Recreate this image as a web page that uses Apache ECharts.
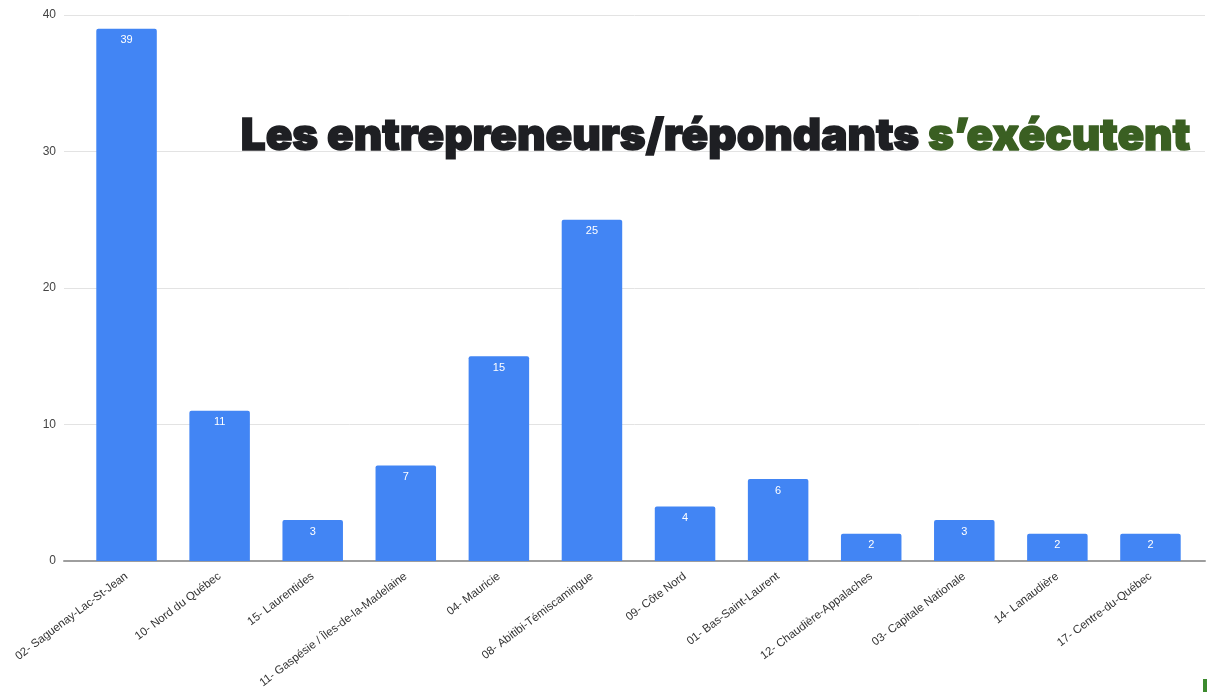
<!DOCTYPE html>
<html>
<head>
<meta charset="utf-8">
<script src="https://cdn.jsdelivr.net/npm/echarts@6/dist/echarts.min.js"></script>
<style>
  html, body { margin: 0; padding: 0; background: #ffffff; }
  #chart { width: 1207px; height: 692px; }
</style>
</head>
<body>
<div id="chart"></div>
<script>
// Regions of Québec and the number of respondents in each
const regions = [
  '02- Saguenay-Lac-St-Jean',
  '10- Nord du Québec',
  '15- Laurentides',
  '11- Gaspésie / Îles-de-la-Madelaine',
  '04- Mauricie',
  '08- Abitibi-Témiscamingue',
  '09- Côte Nord',
  '01- Bas-Saint-Laurent',
  '12- Chaudière-Appalaches',
  '03- Capitale Nationale',
  '14- Lanaudière',
  '17- Centre-du-Québec'
];
const respondents = [39, 11, 3, 7, 15, 25, 4, 6, 2, 3, 2, 2];
const yTicks = { min: 0, max: 40, interval: 10 };
const headline = ['Les entrepreneurs/répondants ', 's’exécutent'];

const chart = echarts.init(document.getElementById('chart'), null, { renderer: 'canvas' });

const gridTop = 15, gridBottom = 131;

chart.setOption({
  animation: false,
  backgroundColor: '#ffffff',
  grid: [
    // wide grid: carries the gridlines, baseline and tick labels
    { left: 64, right: 2, top: gridTop, bottom: gridBottom },
    // bar grid
    { left: 80, right: 10, top: gridTop, bottom: gridBottom }
  ],
  xAxis: [
    {
      gridIndex: 0, type: 'category', data: regions,
      axisLine: { show: true, lineStyle: { color: '#9e9e9e', width: 2 } },
      axisTick: { show: false },
      axisLabel: { show: false }
    },
    {
      gridIndex: 1,
      type: 'category',
      data: regions,
      axisLine: { show: false },
      axisTick: { show: false },
      axisLabel: {
        rotate: 37,
        interval: 0,
        margin: 14,
        color: '#333333',
        fontSize: 11.5,
        fontFamily: 'Liberation Sans, Arial, sans-serif'
      }
    }
  ],
  yAxis: [
    {
      gridIndex: 0,
      type: 'value',
      min: yTicks.min, max: yTicks.max, interval: yTicks.interval,
      axisLine: { show: false },
      axisTick: { show: false },
      splitLine: { show: true, lineStyle: { color: '#e3e3e3', width: 1 } },
      axisLabel: {
        color: '#444444',
        fontSize: 12,
        margin: 8,
        fontFamily: 'Liberation Sans, Arial, sans-serif'
      }
    },
    {
      gridIndex: 1,
      type: 'value',
      min: yTicks.min, max: yTicks.max, interval: yTicks.interval,
      show: false,
      splitLine: { show: false }
    }
  ],
  series: [{
    type: 'bar',
    xAxisIndex: 1,
    yAxisIndex: 1,
    data: respondents,
    barCategoryGap: '35%',
    itemStyle: { color: '#4285f4', borderRadius: [2, 2, 0, 0] },
    label: {
      show: true,
      position: 'insideTop',
      distance: 6,
      color: '#ffffff',
      fontSize: 11,
      fontFamily: 'Liberation Sans, Arial, sans-serif'
    },
    z: 3
  }],
  graphic: [
    {
      type: 'text',
      right: 16,
      top: 114,
      z: 10,
      style: {
        text: '{a|' + headline[0] + '}{b|' + headline[1] + '}',
        rich: {
          a: {
            fontSize: 44, fontWeight: 900,
            fontFamily: 'Inter, Roboto, sans-serif',
            fill: '#1e1f23',
            stroke: '#1e1f23', lineWidth: 1.5
          },
          b: {
            fontSize: 44, fontWeight: 900,
            fontFamily: 'Inter, Roboto, sans-serif',
            fill: '#3a5f22',
            stroke: '#3a5f22', lineWidth: 1.5
          }
        }
      }
    },
    {
      type: 'rect',
      left: 1203, top: 679,
      shape: { width: 4, height: 13 },
      style: { fill: '#3c8a2e' }
    }
  ]
});
</script>
</body>
</html>
